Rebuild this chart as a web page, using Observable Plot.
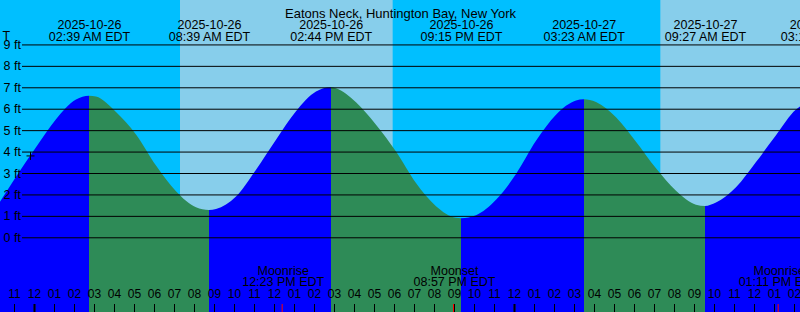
<!DOCTYPE html>
<html>
<head>
<meta charset="utf-8">
<script src="https://cdn.jsdelivr.net/npm/d3@7"></script>
<script src="https://cdn.jsdelivr.net/npm/@observablehq/plot@0.6"></script>
<style>
html, body { margin: 0; padding: 0; background: #fff; }
#chart svg { display: block; }
</style>
</head>
<body>
<div id="chart"></div>
<script>
// ---------- data ----------
const title = "Eatons Neck, Huntington Bay, New York";
const baseTime = "2025-10-26T00:00";        // local (EDT) midnight
const viewStartHour = -1.8;
const viewEndHour = 38.2;

// tide height (ft), hours after baseTime
const tideHours = [-1.8, -1, 0, 1, 2, 3, 4, 5, 6, 7, 8, 9, 10, 11, 12, 13, 14, 15, 16, 17, 18, 19,
  20, 21, 22, 23, 24, 25, 26, 27, 28, 29, 30, 31, 32, 33, 34, 35, 36, 37, 38, 38.2];
const tideHeights = [1.66, 2.83, 4.2, 5.51, 6.43, 6.57, 5.85, 4.8, 3.35, 2.15, 1.4, 1.32, 1.9, 3.15,
  4.55, 5.88, 6.8, 6.95, 6.3, 5.25, 4.0, 2.53, 1.45, 0.91, 1.03, 1.75, 2.95, 4.5, 5.72, 6.38, 6.31,
  5.6, 4.46, 3.22, 2.17, 1.52, 1.62, 2.33, 3.51, 4.76, 5.96, 6.1];

// high / low tides
const extremeTimes = ["2025-10-26T02:39", "2025-10-26T08:39", "2025-10-26T14:44", "2025-10-26T21:15",
  "2025-10-27T03:23", "2025-10-27T09:27", "2025-10-27T15:16"];
const extremeHeights = [6.61, 1.27, 7.0, 0.89, 6.44, 1.46, 6.5];
const extremeTypes = ["High", "Low", "High", "Low", "High", "Low", "High"];

// daylight (sunrise -> sunset)
const dayStarts = ["2025-10-26T07:12", "2025-10-27T07:13"];
const dayEnds = ["2025-10-26T17:50", "2025-10-27T17:49"];

// moon events
const moonKinds = ["Moonrise", "Moonset", "Moonrise"];
const moonTimes = ["2025-10-26T12:23", "2025-10-26T20:57", "2025-10-27T13:11"];

// current-time mark
const nowTime = "2025-10-25T23:42";
const nowHeight = 3.82;

// height gridlines (ft)
const feet = [0, 1, 2, 3, 4, 5, 6, 7, 8, 9];

const colors = { night: "#00BFFF", day: "#87CEEB", rising: "#0000FF", falling: "#2E8B57" };

// ---------- build ----------
const parse = d3.utcParse("%Y-%m-%dT%H:%M");
const base = parse(baseTime);
const atHour = h => new Date(+base + h * 3600e3);
const tStart = atHour(viewStartHour), tEnd = atHour(viewEndHour);

const extremes = extremeTimes.map((t, i) => ({ time: parse(t), height: extremeHeights[i], type: extremeTypes[i] }));
const tide = tideHours.map((h, i) => ({ time: atHour(h), height: tideHeights[i] }))
  .concat(extremes.filter(e => e.time >= tStart && e.time <= tEnd).map(e => ({ time: e.time, height: e.height })))
  .sort((a, b) => a.time - b.time);

const days = dayStarts.map((s, i) => ({ start: parse(s), end: parse(dayEnds[i]) }));
const moons = moonKinds.map((k, i) => ({ kind: k, time: parse(moonTimes[i]) }));
const hours = d3.utcHour.range(tStart, tEnd);
const midnights = hours.filter(d => d.getUTCHours() === 0);
const now = [{ time: parse(nowTime), height: nowHeight }];

const fmtDate = d3.utcFormat("%Y-%m-%d");
const fmtTime = d => d3.utcFormat("%I:%M %p")(d) + " EDT";
const fmtHour = d3.utcFormat("%I");

const font = "Liberation Sans, Arial, Helvetica, sans-serif";
const fs = 12.5;

// hard-stop gradient: blue while rising, green while falling
function tideGradient(index, scales, values, dimensions) {
  const ns = "http://www.w3.org/2000/svg";
  const W = dimensions.width;
  const sx = scales.x;
  const defs = document.createElementNS(ns, "defs");
  const g = document.createElementNS(ns, "linearGradient");
  g.setAttribute("id", "tideFill");
  g.setAttribute("gradientUnits", "userSpaceOnUse");
  g.setAttribute("x1", 0); g.setAttribute("x2", W);
  g.setAttribute("y1", 0); g.setAttribute("y2", 0);
  const addStop = (px, c) => {
    const s = document.createElementNS(ns, "stop");
    s.setAttribute("offset", Math.max(0, Math.min(1, px / W)));
    s.setAttribute("stop-color", c);
    g.appendChild(s);
  };
  let prev = sx(tStart);
  for (const e of extremes) {
    const px = sx(e.time);
    if (px <= prev) continue;
    const c = e.type === "High" ? colors.rising : colors.falling;
    addStop(prev, c); addStop(px, c);
    prev = px;
    if (px >= W) break;
  }
  defs.appendChild(g);
  return defs;
}

const plusSymbol = {
  draw(ctx, size) {
    const r = Math.sqrt(size / Math.PI);
    ctx.moveTo(-r, 0); ctx.lineTo(r, 0);
    ctx.moveTo(0, -r); ctx.lineTo(0, r);
  }
};

const chart = Plot.plot({
  width: 800,
  height: 312,
  marginTop: 0, marginRight: 0, marginBottom: 0, marginLeft: 0,
  style: { overflow: "hidden", background: colors.night, fontFamily: font },
  x: { type: "utc", domain: [tStart, tEnd], range: [0, 800], axis: null },
  y: { domain: [-3.486, 11.073], range: [312, 0], axis: null },
  marks: [
    Plot.frame({ fill: colors.night, stroke: "none" }),
    Plot.rect(days, { x1: "start", x2: "end", fill: colors.day }),
    tideGradient,
    Plot.areaY(tide, { x: "time", y1: -3.486, y2: "height", curve: "monotone-x", fill: "url(#tideFill)" }),
    Plot.ruleY(feet, { y: d => d, insetLeft: 22, stroke: "black", strokeWidth: 1 }),
    Plot.text(feet, { y: d => d, text: d => `${d} ft`, frameAnchor: "left", textAnchor: "start", dx: 3,
      fill: "black", fontFamily: font, fontSize: fs }),
    Plot.text(["T"], { text: d => d, frameAnchor: "top-left", textAnchor: "start", dx: 2, dy: 31,
      fill: "black", fontFamily: font, fontSize: fs }),
    Plot.text([title], { text: d => d, frameAnchor: "top", dy: 8, fill: "black", fontFamily: font, fontSize: 13 }),
    Plot.text(extremes, { x: "time", text: d => fmtDate(d.time), frameAnchor: "top", dy: 19.5,
      fill: "black", fontFamily: font, fontSize: fs }),
    Plot.text(extremes, { x: "time", text: d => fmtTime(d.time), frameAnchor: "top", dy: 31.5,
      fill: "black", fontFamily: font, fontSize: fs }),
    Plot.text(moons, { x: "time", text: "kind", frameAnchor: "bottom", dy: -38, dx: -1,
      fill: "black", fontFamily: font, fontSize: fs }),
    Plot.text(moons, { x: "time", text: d => fmtTime(d.time), frameAnchor: "bottom", dy: -26.5, dx: -1,
      fill: "black", fontFamily: font, fontSize: fs }),
    Plot.text(hours, { x: d => d, text: d => fmtHour(d), frameAnchor: "bottom", dy: -14.5, dx: -2,
      fill: "black", fontFamily: font, fontSize: 12 }),
    Plot.ruleX(hours, { x: d => d, insetTop: 304, dx: -2, stroke: "black", strokeWidth: 1 }),
    Plot.ruleX(midnights, { x: d => d, insetTop: 304, dx: -2, stroke: "black", strokeWidth: 2 }),
    Plot.ruleX(moons, { x: "time", insetTop: 304, dx: -2, stroke: "red", strokeWidth: 1 }),
    Plot.dot(now, { x: "time", y: "height", symbol: plusSymbol, r: 4, stroke: "black", fill: "none", strokeWidth: 1 })
  ]
});

document.getElementById("chart").appendChild(chart);
</script>
</body>
</html>
